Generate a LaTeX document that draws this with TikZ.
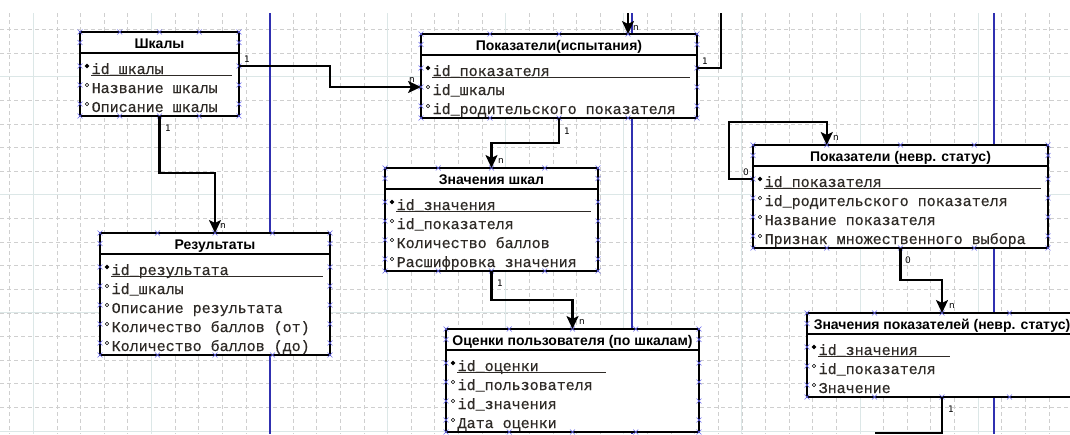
\documentclass[tikz,border=0pt]{standalone}
\usepackage{fontspec}
\setmainfont{Liberation Sans}
\newfontfamily\monof[FakeBold=0.5]{Liberation Mono}
\newfontfamily\cardf{DejaVu Sans}
\usetikzlibrary{arrows.meta,calc}

\definecolor{gridc}{HTML}{CFCFCF}
\definecolor{gridsc}{HTML}{DCE7E7}
\definecolor{pagebl}{HTML}{3030B0}
\definecolor{markbl}{HTML}{6A6AEE}
\definecolor{rowtxt}{HTML}{2E2A26}

\tikzset{
  gridd/.style={draw=gridc, line width=0.8pt, dash pattern=on 4pt off 3pt},
  grids/.style={draw=gridsc, line width=1pt},
  pagebrk/.style={draw=pagebl, line width=1.6pt},
  tbox/.style={draw=black, line width=2.4pt, fill=white, anchor=north west, inner sep=0pt, outer sep=0pt},
  ttitle/.style={font=\bfseries\fontsize{14}{16}\selectfont, anchor=base, inner sep=0pt},
  frow/.style={font=\monof\fontsize{15}{16}\selectfont, text=rowtxt, anchor=base west, inner sep=0pt, text height=16pt, text depth=0pt},
  conn/.style={line width=2.2pt, line join=miter},
  arr/.style={conn, -{Stealth[length=13pt,width=12pt,inset=3pt]}},
  card/.style={font=\cardf\fontsize{9}{10}\selectfont, inner sep=0pt},
  xmark/.style={draw=markbl, line width=0.6pt},
  pics/xmk/.style={code={\draw[xmark] (-2.4,-2.4) -- (2.4,2.4) (-2.4,2.4) -- (2.4,-2.4);}},
}

% #1 name, #2 L, #3 T, #4 R, #5 rows, #6 title, #7 PK underline end
\newcommand\ertab[7]{%
  \node[tbox, minimum width={(#4-#2)*1pt}, minimum height={(46+19*(#5-1))*1pt}] (#1) at (#2,#3) {};
  \draw[line width=2pt] (#2,#3+21) -- (#4,#3+21);
  \node[ttitle] (#1-t) at ({(#2+#4)/2},#3+16.5) {#6};
  \draw[line width=0.9pt, rowtxt] (#2+11,#3+43.2) -- (#7,#3+43.2);
  \foreach \f in {0,0.25,0.5,0.75,1} {
    \pic at ({#2+\f*(#4-#2)},#3) {xmk};
    \pic at ({#2+\f*(#4-#2)},{#3+46+19*(#5-1)}) {xmk};
  }
  \foreach \i in {1,...,#5} {
    \pic at (#2,{#3+34+19*(\i-1)}) {xmk};
    \pic at (#4,{#3+34+19*(\i-1)}) {xmk};
  }
  \pic at (#2,#3+10.5) {xmk};
  \pic at (#4,#3+10.5) {xmk};
  \fill[black] (#2+7,#3+34) ++(-2.4,0) -- ++(2.4,-2.4) -- ++(2.4,2.4) -- ++(-2.4,2.4) -- cycle;
  \foreach \i in {2,...,#5} {
    \draw[line width=0.6pt] (#2+7,{#3+34+19*(\i-1)}) circle[radius=1.7pt];
  }
}
% #1 name, #2 L, #3 T, #4 list of fields
\newcommand\errows[4]{%
  \foreach \t [count=\i] in {#4} {
    \node[frow] (#1-\i) at (#2+11.5,{#3+42+19*(\i-1)}) {\t};
  }
}

\begin{document}
\begin{tikzpicture}[x=1pt,y=-1pt]
\useasboundingbox (0,0) rectangle (1070,434);
\clip (0,0) rectangle (1070,434);
\fill[white] (0,0) rectangle (1070,434);

% grid
\foreach \k in {0,...,45} \draw[gridd] ({9.7+23.62*\k},13) -- ({9.7+23.62*\k},434);
\foreach \k in {0,...,17} \draw[gridd] (0,{29.46+23.62*\k}) -- (1070,{29.46+23.62*\k});
\foreach \k in {0,...,9} \draw[grids] ({33.3+118.1*\k},13) -- ({33.3+118.1*\k},434);
\foreach \k in {0,...,3} \draw[grids] (0,{76.7+118.1*\k}) -- (1070,{76.7+118.1*\k});

% page breaks
\draw[pagebrk] (270,13) -- (270,434);
\draw[pagebrk] (632,13) -- (632,434);
\draw[pagebrk] (994,13) -- (994,434);

% tables
\ertab{shk}{80}{32}{239}{3}{Шкалы}{232}
\errows{shk}{80}{32}{id\_шкалы,Название шкалы,Описание шкалы}

\ertab{pki}{421}{34}{697}{3}{Показатели(испытания)}{690}
\errows{pki}{421}{34}{id\_показателя,id\_шкалы,id\_родительского показателя}

\ertab{zsh}{385}{168}{598}{4}{Значения шкал}{591}
\errows{zsh}{385}{168}{id\_значения,id\_показателя,Количество баллов,Расшифровка значения}

\ertab{res}{100}{233}{330}{5}{Результаты}{323}
\errows{res}{100}{233}{id\_результата,id\_шкалы,Описание результата,Количество баллов (от),Количество баллов (до)}

\ertab{ocn}{446}{329}{699}{4}{Оценки пользователя (по шкалам)}{606}
\errows{ocn}{446}{329}{id\_оценки,id\_пользователя,id\_значения,Дата оценки}

\ertab{pnv}{753}{145}{1048}{4}{Показатели (невр. статус)}{1041}
\errows{pnv}{753}{145}{id\_показателя,id\_родительского показателя,Название показателя,Признак множественного выбора}

\ertab{znp}{807}{313}{1077}{3}{Значения показателей (невр. статус)}{950}
\errows{znp}{807}{313}{id\_значения,id\_показателя,Значение}

% free ends
\coordinate (topin) at (628,13);
\coordinate (topout) at (721,13);
\coordinate (botout) at (875,433);

% connectors
\draw[arr] (shk.east |- shk-1) -- (330,66) -- (330,87) -- (pki.west |- pki-2);
\draw[arr] (shk.south) -- (159.5,173) -- (215,173) -- (res.north);
\draw[arr] (pki.south) -- (559,143) -- (491.5,143) -- (zsh.north);
\draw[arr] (zsh.south) -- (491.5,300) -- (572.5,300) -- (ocn.north);
\draw[arr] (topin) -- ($(pki.north)!0.5!(pki.north east)$);
\draw[conn] (pki.east |- pki-1) -| (topout);
\draw[arr] (pnv.west |- pnv-1) -- (729,179) -- (729,122) -- (826.75,122) -- ($(pnv.north west)!0.25!(pnv.north east)$);
\draw[arr] (pnv.south) -- (900.5,280) -- (942,280) -- (znp.north);
\draw[conn] (znp.south) -- (942,433) -- (botout);

% cardinalities
\node[card] (c1) at (247,59) {1};
\node[card] (c2) at (412,80) {n};
\node[card] (c3) at (168,128) {1};
\node[card] (c4) at (223,226) {n};
\node[card] (c5) at (567,131) {1};
\node[card] (c6) at (501,161) {n};
\node[card] (c7) at (500,283) {1};
\node[card] (c8) at (582,322) {n};
\node[card] (c9) at (636,28) {n};
\node[card] (c10) at (705,61) {1};
\node[card] (c11) at (746,172) {0};
\node[card] (c12) at (836,138) {n};
\node[card] (c13) at (908,260) {0};
\node[card] (c14) at (952,306) {n};
\node[card] (c15) at (951,409) {1};
\end{tikzpicture}
\end{document}
